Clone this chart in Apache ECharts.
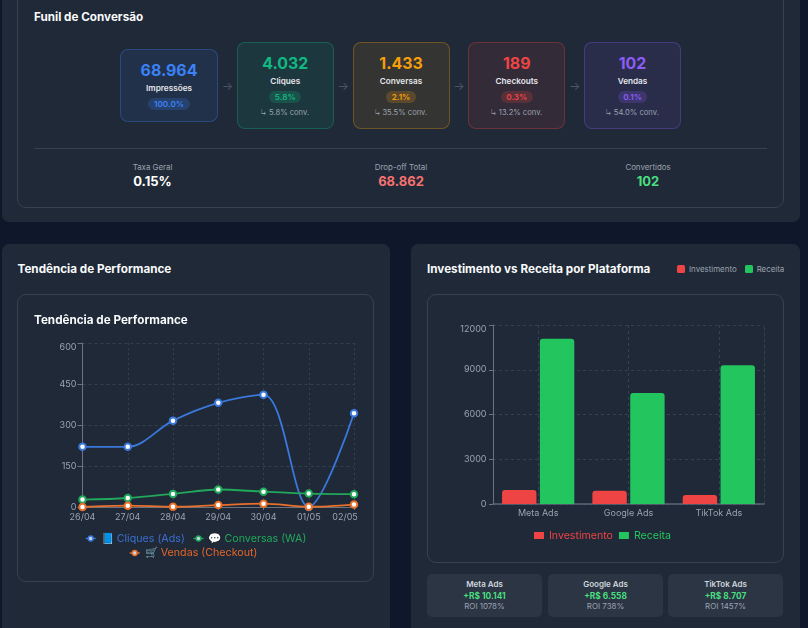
<!DOCTYPE html>
<html lang="pt-BR">
<head>
<meta charset="utf-8">
<title>Funil e Performance</title>
<script src="https://cdn.jsdelivr.net/npm/echarts@6/dist/echarts.min.js"></script>
<style>
  html, body { margin: 0; padding: 0; width: 808px; height: 628px; overflow: hidden; background: #0f172a; font-family: Inter, "Noto Sans", sans-serif; }
  .panel { position: absolute; background: #1f2937; border-radius: 7px; box-sizing: border-box; }
  #panelTop { left: 2px; top: -20px; width: 798px; height: 242px; }
  #panelLeft { left: 2px; top: 244px; width: 388px; height: 400px; }
  #panelRight { left: 411px; top: 244px; width: 389px; height: 400px; }
  .box { position: absolute; border: 1px solid #374151; border-radius: 9px; box-sizing: border-box; }
  #boxTop { left: 17px; top: -20px; width: 767px; height: 228px; }
  #boxLeft { left: 17px; top: 294px; width: 357px; height: 288px; }
  #boxRight { left: 427px; top: 294px; width: 357px; height: 269px; }
  .title { position: absolute; color: #f9fafb; font-weight: 700; font-size: 11.7px; line-height: 14px; white-space: nowrap; }
  #funnel { position: absolute; left: 120px; top: 42px; height: 87px; display: flex; align-items: center; }
  .stage { box-sizing: border-box; width: 97px; height: 87px; border-radius: 8px; border: 1px solid; text-align: center; padding-top: 11px; line-height: 12px; }
  .stage.first { width: 98px; height: 73px; padding-top: 11px; }
  .stage .num { font-weight: 700; font-size: 15.9px; line-height: 20px; }
  .stage .lab { font-weight: 600; font-size: 8.2px; line-height: 12px; color: #e5e7eb; margin-top: 1px; }
  .stage .pct { display: inline-block; vertical-align: top; font-weight: 600; font-size: 8.2px; line-height: 12px; padding: 0 5.5px; border-radius: 7px; margin-top: 4px; }
  .stage .conv { font-size: 7.6px; line-height: 10px; color: #9ca3af; margin-top: 5px; }
  .stage .conv b { display: inline-block; width: 4.5px; font-size: 10px; line-height: 10px; vertical-align: top; font-weight: 400; transform: scaleX(.5); transform-origin: left center; margin-right: 1px; }
  .arrow { width: 18.75px; text-align: center; color: #4b5563; font-size: 12px; line-height: 14px; }
  #divider { position: absolute; left: 34px; top: 148px; width: 733px; height: 1px; background: #374151; }
  .stat { position: absolute; top: 161px; width: 160px; margin-left: -80px; text-align: center; }
  .stat .k { font-size: 7.9px; line-height: 12px; color: #9ca3af; }
  .stat .v { font-size: 13px; line-height: 16px; font-weight: 700; margin-top: 0; }
  .mini { position: absolute; top: 574px; width: 115px; height: 43px; background: #2b3544; border-radius: 5px; text-align: center; box-sizing: border-box; padding-top: 5px; }
  .mini .n { font-size: 8px; line-height: 11px; font-weight: 600; color: #d1d5db; }
  .mini .p { font-size: 8.4px; line-height: 12px; font-weight: 700; color: #4ade80; }
  .mini .r { font-size: 7.9px; line-height: 9px; color: #9ca3af; }
  #topLegend { position: absolute; left: 677px; top: 263px; display: flex; align-items: center; color: #9ca3af; font-size: 7.9px; line-height: 12px; }
  #topLegend i { display: inline-block; width: 8px; height: 8px; border-radius: 1.5px; margin-right: 4px; }
  #topLegend span { margin-right: 8px; }
  .chart { position: absolute; }
  #trendChart { left: 17px; top: 294px; width: 357px; height: 288px; }
  #platformChart { left: 427px; top: 294px; width: 357px; height: 269px; }
</style>
</head>
<body>
<div class="panel" id="panelTop"></div>
<div class="panel" id="panelLeft"></div>
<div class="panel" id="panelRight"></div>
<div class="box" id="boxTop"></div>
<div class="box" id="boxLeft"></div>
<div class="box" id="boxRight"></div>

<div class="title" style="left:34px;top:10px">Funil de Conversão</div>
<div id="funnel"></div>
<div id="divider"></div>
<div id="stats"></div>

<div class="title" style="left:17.5px;top:262px">Tendência de Performance</div>
<div class="title" style="left:427px;top:262px">Investimento vs Receita por Plataforma</div>
<div id="topLegend"></div>

<div class="chart" id="trendChart"></div>
<div class="chart" id="platformChart"></div>
<div id="minis"></div>

<script>
// Funnel stages
const stageNames = ['Impressões', 'Cliques', 'Conversas', 'Checkouts', 'Vendas'];
const stageValues = ['68.964', '4.032', '1.433', '189', '102'];
const stagePercents = ['100.0%', '5.8%', '2.1%', '0.3%', '0.1%'];
const stageConversions = [null, '5.8%', '35.5%', '13.2%', '54.0%'];
const stageColors = ['#3b82f6', '#10b981', '#f59e0b', '#ef4444', '#8b5cf6'];

// Funnel summary
const summaryLabels = ['Taxa Geral', 'Drop-off Total', 'Convertidos'];
const summaryValues = ['0.15%', '68.862', '102'];
const summaryColors = ['#ffffff', '#f87171', '#4ade80'];
const summaryCentres = [152.5, 401, 648];

// Daily trend
const days = ['26/04', '27/04', '28/04', '29/04', '30/04', '01/05', '02/05'];
const clicks = [220, 220, 316, 381, 411, 0, 343];
const chats = [27, 33, 48, 64, 56, 49, 47];
const sales = [0, 5, 1, 7, 12, 1, 9];

// Spend and revenue per platform
const platforms = ['Meta Ads', 'Google Ads', 'TikTok Ads'];
const spend = [941, 889, 598];
const revenue = [11082, 7447, 9305];
const profitLabels = ['+R$ 10.141', '+R$ 6.558', '+R$ 8.707'];
const roiLabels = ['ROI 1078%', 'ROI 738%', 'ROI 1457%'];

const funnel = document.getElementById('funnel');
stageNames.forEach((name, i) => {
  const c = stageColors[i];
  const stage = document.createElement('div');
  stage.className = 'stage' + (i === 0 ? ' first' : '');
  stage.style.borderColor = c + '4d';
  stage.style.background = c + '1a';
  stage.innerHTML =
    `<div class="num" style="color:${c}">${stageValues[i]}</div>` +
    `<div class="lab">${name}</div>` +
    `<div class="pct" style="color:${c};background:${c}33">${stagePercents[i]}</div>` +
    (stageConversions[i] ? `<div class="conv"><b>↳</b> ${stageConversions[i]} conv.</div>` : '');
  funnel.appendChild(stage);
  if (i < stageNames.length - 1) {
    const arrow = document.createElement('div');
    arrow.className = 'arrow';
    arrow.textContent = '→';
    funnel.appendChild(arrow);
  }
});

const stats = document.getElementById('stats');
summaryLabels.forEach((label, i) => {
  const s = document.createElement('div');
  s.className = 'stat';
  s.style.left = summaryCentres[i] + 'px';
  s.innerHTML = `<div class="k">${label}</div><div class="v" style="color:${summaryColors[i]}">${summaryValues[i]}</div>`;
  stats.appendChild(s);
});

const miniLefts = [427, 548, 668];
const minis = document.getElementById('minis');
platforms.forEach((p, i) => {
  const m = document.createElement('div');
  m.className = 'mini';
  m.style.left = miniLefts[i] + 'px';
  m.innerHTML = `<div class="n">${p}</div><div class="p">${profitLabels[i]}</div><div class="r">${roiLabels[i]}</div>`;
  minis.appendChild(m);
});

document.getElementById('topLegend').innerHTML =
  '<i style="background:#ef4444"></i><span>Investimento</span><i style="background:#22c55e"></i><span>Receita</span>';

const FONT = 'Inter';
const AXIS = '#6b7280';
const GRID = '#354050';
const TICK_TEXT = '#9ca3af';

function lineSeries(name, data, color) {
  return {
    name, data, type: 'line', smooth: 0.33,
    symbol: 'circle', symbolSize: 6.5,
    showAllSymbol: true,
    lineStyle: { color, width: 1.8 },
    itemStyle: { color: '#ffffff', borderColor: color, borderWidth: 2 }
  };
}

const clickName = '📘 Cliques (Ads)';
const chatName = '💬 Conversas (WA)';
const saleName = '🛒 Vendas (Checkout)';
const BLUE = '#3b78dc', GREEN = '#22a85a', ORANGE = '#e8702a';
const BLUE_TEXT = '#3b6fd1', GREEN_TEXT = '#22a95a', ORANGE_TEXT = '#e5652a';

function legendEntry(name, color) {
  return {
    name,
    textStyle: { color },
    lineStyle: { width: 1.4 },
    itemStyle: { color: '#c8d6e8', borderWidth: 1.5 }
  };
}

function lineLegend(entries, left, top) {
  return {
    top, left, selectedMode: false, itemWidth: 10, itemHeight: 6, itemGap: 8,
    data: entries,
    textStyle: { fontFamily: FONT, fontSize: 10.7 }
  };
}

const trend = echarts.init(document.getElementById('trendChart'), null, { renderer: 'canvas' });
trend.setOption({
  animation: false,
  title: {
    text: 'Tendência de Performance', left: 12, top: 15.5,
    textStyle: { color: '#f9fafb', fontFamily: FONT, fontSize: 11.7, fontWeight: 700 }
  },
  legend: [
    lineLegend([legendEntry(clickName, BLUE_TEXT), legendEntry(chatName, GREEN_TEXT)], 63, 234),
    lineLegend([legendEntry(saleName, ORANGE_TEXT)], 107, 248.5)
  ],
  grid: { left: 65.5, right: 20, top: 49, height: 164 },
  xAxis: {
    type: 'category', data: days, boundaryGap: false,
    axisLine: { lineStyle: { color: AXIS, width: 1 } },
    axisTick: { length: 3, lineStyle: { color: AXIS } },
    splitLine: { show: true, lineStyle: { color: GRID, type: [2, 3] } },
    axisLabel: {
      color: TICK_TEXT, fontFamily: FONT, fontSize: 9, margin: 6, interval: 0,
      formatter: (v, i) => i === days.length - 1 ? '{last|' + v + '}' : v,
      rich: { last: { color: TICK_TEXT, fontFamily: FONT, fontSize: 9, padding: [0, 18, 0, 0] } }
    }
  },
  yAxis: {
    type: 'value', min: 0, max: 600, interval: 150,
    axisLine: { show: true, lineStyle: { color: AXIS, width: 1 } },
    axisTick: { show: true, length: 5, lineStyle: { color: AXIS } },
    splitLine: { show: true, lineStyle: { color: GRID, type: [3, 3] } },
    axisLabel: { color: TICK_TEXT, fontFamily: FONT, fontSize: 9, margin: 6, verticalAlignMaxLabel: 'top' }
  },
  series: [
    lineSeries(clickName, clicks, BLUE),
    lineSeries(chatName, chats, GREEN),
    lineSeries(saleName, sales, ORANGE)
  ]
});

const RED = '#ef4444', BAR_GREEN = '#22c55e';
const platform = echarts.init(document.getElementById('platformChart'), null, { renderer: 'canvas' });
platform.setOption({
  animation: false,
  legend: {
    top: 231, left: 102, selectedMode: false, itemWidth: 10, itemHeight: 7, itemGap: 6,
    icon: 'rect',
    data: [
      { name: 'Investimento', textStyle: { color: RED } },
      { name: 'Receita', textStyle: { color: BAR_GREEN } }
    ],
    textStyle: { fontFamily: FONT, fontSize: 10.6 }
  },
  grid: { left: 66, right: 20, top: 31, height: 179 },
  xAxis: {
    type: 'category', data: platforms,
    axisLine: { lineStyle: { color: '#5b6678', width: 1.5 } },
    axisTick: { alignWithLabel: true, length: 3, lineStyle: { color: AXIS } },
    splitLine: { show: true, alignWithLabel: true, lineStyle: { color: GRID, type: [3, 3] } },
    axisLabel: { color: TICK_TEXT, fontFamily: FONT, fontSize: 9, margin: 5 }
  },
  yAxis: [
    {
      type: 'value', min: 0, max: 12000, interval: 3000,
      axisLine: { show: true, lineStyle: { color: AXIS, width: 1 } },
      axisTick: { show: true, length: 4, lineStyle: { color: AXIS } },
      splitLine: { show: true, lineStyle: { color: GRID, type: [3, 3] } },
      axisLabel: {
        color: TICK_TEXT, fontFamily: FONT, fontSize: 9, margin: 6.5,
        verticalAlignMaxLabel: 'top', formatter: (v) => String(v)
      }
    },
    {
      type: 'value', min: 0, max: 12000, interval: 3000, position: 'right',
      axisLine: { show: true, lineStyle: { color: GRID, type: [3, 3] } },
      axisTick: { show: false }, axisLabel: { show: false }, splitLine: { show: false }
    }
  ],
  series: [
    { name: 'Investimento', type: 'bar', data: spend, barWidth: 34.4, barGap: '10%',
      itemStyle: { color: RED, borderRadius: [3, 3, 0, 0] } },
    { name: 'Receita', type: 'bar', data: revenue, barWidth: 34.4, barGap: '10%',
      itemStyle: { color: BAR_GREEN, borderRadius: [3, 3, 0, 0] } }
  ]
});
</script>
</body>
</html>
